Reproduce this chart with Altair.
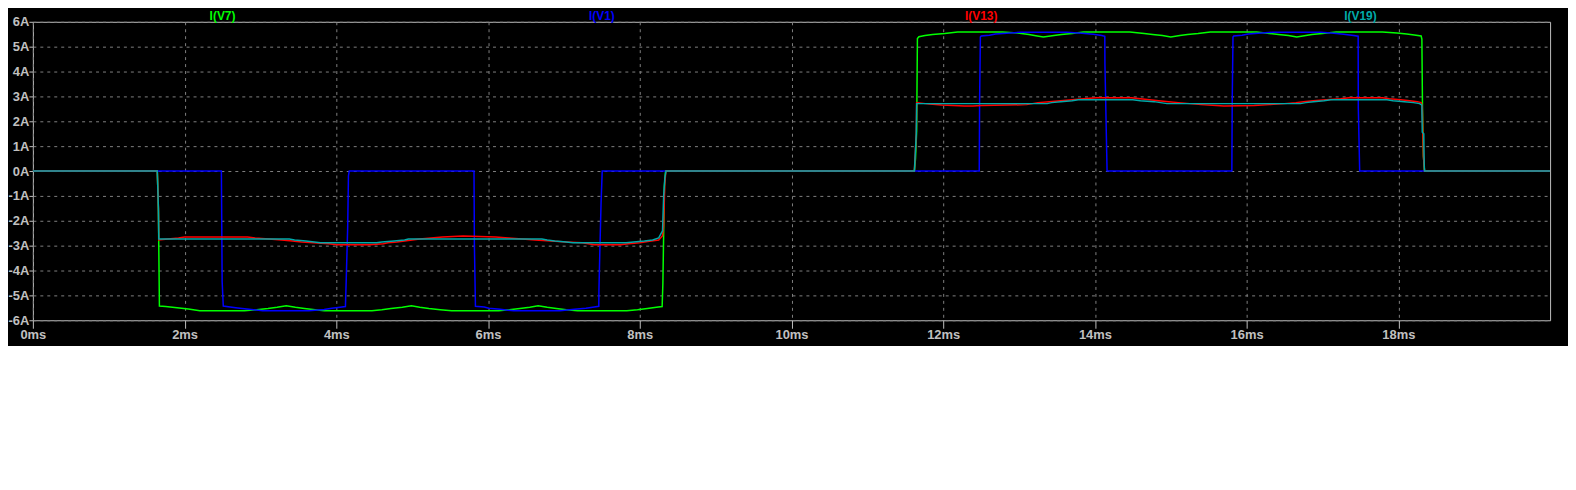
import altair as alt
import pandas as pd

# ---------------- data ----------------
SERIES = ["I(V7)", "I(V1)", "I(V13)", "I(V19)"]
COLORS = ["#00ff00", "#0000ff", "#ff0000", "#00aaaa"]

# I(V7) - green
V7_T = [0, 1.64, 1.645, 1.655, 1.668, 1.75, 1.9, 2.05, 2.2, 2.79, 2.95, 3.1, 3.22, 3.34, 3.46, 3.58,
        3.72, 3.84, 4.47, 4.6, 4.72, 4.87, 4.99, 5.1, 5.22, 5.37, 5.52, 6.14, 6.28, 6.42, 6.55, 6.66,
        6.78, 6.9, 7.03, 7.18, 7.83, 7.97, 8.1, 8.22, 8.295, 8.305, 8.315, 8.325, 8.34,
        11.62, 11.635, 11.65, 11.66, 11.68, 11.76, 11.86, 12.02, 12.19, 12.78, 12.98, 13.13, 13.22,
        13.32, 13.46, 13.56, 13.70, 13.85, 14.46, 14.65, 14.76, 14.89, 15.0, 15.12, 15.22, 15.36,
        15.52, 16.13, 16.3, 16.42, 16.55, 16.66, 16.76, 16.86, 17.0, 17.18, 17.79, 17.98, 18.11,
        18.21, 18.30, 18.31, 18.318, 18.33, 18.345, 20]
V7_V = [0, 0, -0.5, -1.6, -5.43, -5.45, -5.50, -5.55, -5.62, -5.62, -5.58, -5.53, -5.48, -5.42, -5.48, -5.53,
        -5.58, -5.62, -5.62, -5.58, -5.53, -5.48, -5.42, -5.48, -5.53, -5.58, -5.62, -5.62, -5.58, -5.53, -5.48, -5.42,
        -5.48, -5.53, -5.58, -5.62, -5.62, -5.58, -5.53, -5.48, -5.45, -4.5, -2.5, -0.6, 0,
        0, 0.5, 1.6, 5.33, 5.40, 5.45, 5.49, 5.53, 5.59, 5.59, 5.55, 5.49, 5.44,
        5.39, 5.45, 5.49, 5.53, 5.59, 5.59, 5.53, 5.49, 5.45, 5.39, 5.45, 5.49, 5.53,
        5.59, 5.59, 5.53, 5.49, 5.45, 5.39, 5.44, 5.49, 5.53, 5.59, 5.59, 5.55, 5.51,
        5.47, 5.43, 5.3, 2.5, 0.6, 0, 0]

# I(V1) - blue
V1_T = [0, 2.485, 2.49, 2.495, 2.51, 2.60, 2.70, 2.79, 3.03, 3.64, 3.84, 3.94, 4.05, 4.12, 4.13, 4.15, 4.16, 4.17,
        5.815, 5.82, 5.834, 5.95, 6.01, 6.16, 6.34, 6.95, 7.14, 7.29, 7.40, 7.46, 7.462, 7.475, 7.49, 7.505,
        12.475, 12.48, 12.49, 12.5, 12.61, 12.69, 13.02, 13.63, 13.83, 13.98, 14.09, 14.13, 14.132, 14.16,
        15.805, 15.81, 15.82, 15.83, 15.94, 16.02, 16.35, 16.98, 17.15, 17.28, 17.41, 17.47, 17.472, 17.49, 20]
V1_V = [0, 0, -2.24, -4.44, -5.43, -5.47, -5.51, -5.54, -5.62, -5.62, -5.57, -5.52, -5.48, -5.45, -4.44, -2.24, -0.2, 0,
        0, -2.95, -5.44, -5.47, -5.52, -5.56, -5.62, -5.62, -5.56, -5.52, -5.47, -5.44, -4.77, -3.06, -1.27, 0,
        0, 2.88, 5.39, 5.43, 5.46, 5.51, 5.58, 5.58, 5.54, 5.50, 5.45, 5.42, 4.3, 0,
        0, 2.88, 5.39, 5.43, 5.46, 5.51, 5.58, 5.58, 5.54, 5.50, 5.45, 5.42, 2.55, 0, 0]

# I(V13) - red
V13_T = [0, 1.64, 1.655, 1.66, 1.78, 1.92, 2.0, 2.83, 2.93, 3.11, 3.28, 3.42, 3.54, 3.7, 3.9, 4.01, 4.44,
         4.62, 4.68, 4.8, 4.95, 5.1, 5.25, 5.4, 5.67, 6.1, 6.27, 6.45, 6.62, 6.83, 7.03, 7.24, 7.4, 7.75,
         7.85, 8.0, 8.15, 8.25, 8.3, 8.315, 8.33, 8.345,
         11.62, 11.645, 11.65, 11.71, 11.82, 11.98, 12.28, 12.39, 12.5, 12.85, 13.1, 13.25, 13.4, 13.55,
         13.7, 13.85, 14.02, 14.48, 14.6, 14.72, 14.84, 14.97, 15.1, 15.25, 15.4, 15.6, 15.7, 16.1, 16.3,
         16.5, 16.65, 16.75, 16.88, 17.05, 17.24, 17.35, 17.79, 17.88, 18.03, 18.15, 18.25, 18.3, 18.315,
         18.33, 18.345, 20]
V13_V = [0, 0, -1.5, -2.77, -2.73, -2.69, -2.65, -2.65, -2.69, -2.73, -2.77, -2.81, -2.85, -2.88, -2.92, -2.96, -2.96,
         -2.92, -2.88, -2.85, -2.79, -2.73, -2.69, -2.65, -2.61, -2.65, -2.69, -2.73, -2.77, -2.81, -2.85, -2.88, -2.96, -2.96,
         -2.92, -2.88, -2.81, -2.77, -2.6, -2.2, -0.5, 0,
         0, 1.5, 2.75, 2.73, 2.69, 2.65, 2.61, 2.61, 2.63, 2.65, 2.67, 2.75, 2.79, 2.83,
         2.87, 2.91, 2.95, 2.95, 2.91, 2.87, 2.83, 2.79, 2.75, 2.71, 2.67, 2.63, 2.61, 2.63, 2.67,
         2.71, 2.75, 2.79, 2.83, 2.87, 2.91, 2.95, 2.95, 2.91, 2.87, 2.83, 2.79, 2.75, 2.6,
         0.6, 0, 0]

# I(V19) - cyan
V19_T = [0, 1.64, 1.655, 1.66, 3.38, 3.45, 3.6, 3.79, 4.53, 4.6, 4.76, 4.9, 4.95, 6.71, 6.78, 6.88, 7.03,
         7.12, 7.82, 7.92, 8.06, 8.17, 8.25, 8.3, 8.315, 8.33, 8.345,
         11.62, 11.645, 11.65, 13.37, 13.43, 13.55, 13.7, 13.78, 14.5, 14.6, 14.78, 14.95, 16.71, 16.78,
         16.88, 17.02, 17.11, 17.85, 17.93, 18.08, 18.2, 18.28, 18.31, 18.315, 18.335, 18.34, 18.345, 20]
V19_V = [0, 0, -1.5, -2.73, -2.73, -2.77, -2.81, -2.88, -2.88, -2.85, -2.81, -2.77, -2.73, -2.73, -2.77, -2.81, -2.85,
         -2.88, -2.88, -2.85, -2.81, -2.77, -2.69, -2.4, -1.0, -0.3, 0,
         0, 1.5, 2.71, 2.71, 2.75, 2.79, 2.83, 2.87, 2.87, 2.83, 2.79, 2.71, 2.71, 2.75,
         2.79, 2.83, 2.87, 2.87, 2.83, 2.79, 2.75, 2.71, 2.65, 1.56, 1.5, 0.3, 0, 0]

X_TICKS = [0, 2, 4, 6, 8, 10, 12, 14, 16, 18]
Y_TICKS = [-6, -5, -4, -3, -2, -1, 0, 1, 2, 3, 4, 5, 6]

# ---------------- build ----------------
frames = []
for name, t, v in [("I(V7)", V7_T, V7_V), ("I(V1)", V1_T, V1_V),
                   ("I(V13)", V13_T, V13_V), ("I(V19)", V19_T, V19_V)]:
    frames.append(pd.DataFrame({"t": t, "v": v, "series": name}))
df = pd.concat(frames, ignore_index=True)

# trace names centred over each quarter of the time span
labels = pd.DataFrame({"series": SERIES, "t": [(i + 0.5) * 20 / len(SERIES) for i in range(len(SERIES))]})

FONT = "Liberation Sans"
LBL = "#c0c0c0"

xs = alt.Scale(domain=[0, 20], nice=False, zero=False)
ys = alt.Scale(domain=[-6, 6], nice=False, zero=False)
xaxis = alt.Axis(values=X_TICKS, labelExpr="datum.value + 'ms'", title=None, grid=True,
                 gridColor="#808080", gridDash=[3, 4], gridWidth=1, domain=False,
                 tickColor=LBL, tickSize=8, labelColor=LBL, labelFont=FONT,
                 labelFontSize=13, labelFontWeight="bold", labelPadding=0, labelFlush=False,
                 labelOverlap=False)
yaxis = alt.Axis(values=Y_TICKS, labelExpr="datum.value + 'A'", title=None, grid=True,
                 gridColor="#808080", gridDash=[3, 4], gridWidth=1, domain=False,
                 tickColor=LBL, tickSize=4, labelColor=LBL, labelFont=FONT,
                 labelFontSize=13, labelFontWeight="bold", labelPadding=0, labelFlush=False,
                 labelOverlap=False)

base = alt.Chart(df).encode(
    x=alt.X("t:Q", scale=xs, axis=xaxis),
    y=alt.Y("v:Q", scale=ys, axis=yaxis),
)

layers = []
for name, col in zip(SERIES, COLORS):
    layers.append(
        base.transform_filter(alt.datum.series == name)
        .mark_line(color=col, strokeWidth=1.5, clip=True, interpolate="linear")
    )

names = alt.Chart(labels).mark_text(
    align="center", baseline="alphabetic", font=FONT, fontSize=12, fontWeight="bold"
).encode(
    x=alt.X("t:Q", scale=xs, axis=xaxis),
    y=alt.value(-1.5),
    text="series:N",
    color=alt.Color("series:N", scale=alt.Scale(domain=SERIES, range=COLORS), legend=None),
)

chart = alt.layer(*layers, names).properties(
    width=1525,
    height=300,
    background="#000000",
    autosize=alt.AutoSizeParams(type="none"),
    padding={"left": 25, "right": 18, "top": 13, "bottom": 25},
).configure_view(stroke="#c0c0c0", strokeWidth=1)

chart.save("out.html", embed_options={"renderer": "svg", "actions": False})
